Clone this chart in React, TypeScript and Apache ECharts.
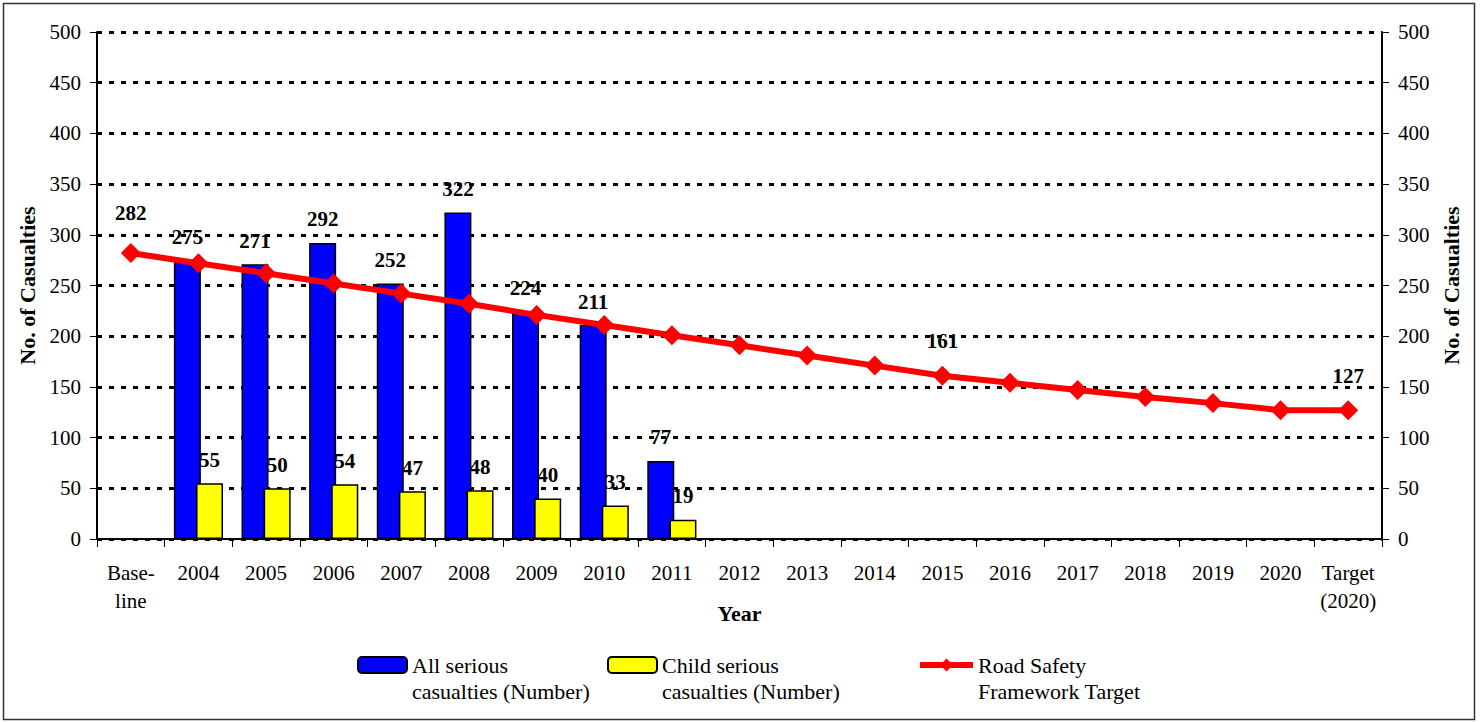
import React, { useEffect, useRef } from "react";
import * as echarts from "echarts";

const categories = ["Base-\nline", "2004", "2005", "2006", "2007", "2008", "2009", "2010", "2011", "2012", "2013", "2014", "2015", "2016", "2017", "2018", "2019", "2020", "Target\n(2020)"];
const allSerious = [null, 275, 271, 292, 252, 322, 224, 211, 77, null, null, null, null, null, null, null, null, null, null];
const childSerious = [null, 55, 50, 54, 47, 48, 40, 33, 19, null, null, null, null, null, null, null, null, null, null];
const target = [282, 272, 262, 252, 242, 232, 221, 211, 201, 191, 181, 171, 161, 154, 147, 140, 134, 127, 127];
const labelledTargetIdx = [0, 12, 18];
const yTicks = { min: 0, max: 500, interval: 50 };

const seriesNames = ["All serious\ncasualties (Number)", "Child serious\ncasualties (Number)", "Road Safety\nFramework Target"];

const FONT = "'Liberation Serif', 'Times New Roman', serif";

export default function App() {
  const ref = useRef<HTMLDivElement>(null);
  useEffect(() => {
    const chart = echarts.init(ref.current!, null, { renderer: "svg" });
    const labelStyle = { fontFamily: FONT, fontSize: 21, fontWeight: "bold", color: "#000" };
    const legendBase = (name: string, left: number) => ({
      data: [name],
      left,
      top: 626,
      padding: 0,
      itemWidth: name === seriesNames[2] ? 53 : 49,
      itemHeight: 16,
      formatter: (n: string) => "\n" + n,
      textStyle: { fontFamily: FONT, fontSize: 22, color: "#000", lineHeight: 26 },
      lineStyle: { width: 6, color: "#ff0000" },
      selectedMode: false,
    });
    const yAxisBase = (pos: "left" | "right") => ({
      type: "value",
      position: pos,
      min: yTicks.min,
      max: yTicks.max,
      interval: yTicks.interval,
      name: "No. of Casualties",
      nameLocation: "middle",
      nameGap: pos === "left" ? 52 : 46,
      nameTextStyle: { fontFamily: FONT, fontSize: 22, fontWeight: "bold", color: "#000" },
      axisLine: { show: true, lineStyle: { color: "#000", width: 2 } },
      axisTick: { show: true, length: 7, lineStyle: { color: "#000", width: 1 } },
      axisLabel: { fontFamily: FONT, fontSize: 21, color: "#000", margin: 16 },
      splitLine: pos === "left"
        ? { show: true, lineStyle: { color: "#000", width: 3, type: [5, 7] } }
        : { show: false },
    });
    chart.setOption({
      animation: false,
      backgroundColor: "#fff",
      textStyle: { fontFamily: FONT },
      graphic: [
        { type: "rect", shape: { x: 3.5, y: 3.5, width: 1471, height: 716 }, style: { fill: "none", stroke: "#333", lineWidth: 1.5 }, silent: true, z: -10 },
      ],
      grid: { left: 97, right: 98, top: 32, bottom: 183 },
      legend: [
        legendBase(seriesNames[0], 357),
        legendBase(seriesNames[1], 607),
        legendBase(seriesNames[2], 917),
      ],
      xAxis: {
        type: "category",
        data: categories,
        name: "Year",
        nameLocation: "middle",
        nameGap: 63,
        nameMoveOverlap: false,
        nameTextStyle: { fontFamily: FONT, fontSize: 22, fontWeight: "bold", color: "#000" },
        axisLine: { lineStyle: { color: "#000", width: 2 } },
        axisTick: { show: true, length: 8, lineStyle: { color: "#000", width: 1 } },
        axisLabel: { fontFamily: FONT, fontSize: 21, color: "#000", lineHeight: 28, margin: 20, interval: 0 },
      },
      yAxis: [yAxisBase("left"), yAxisBase("right")],
      series: [
        {
          name: seriesNames[0],
          type: "bar",
          data: allSerious,
          barWidth: 27,
          barGap: "-18%",
          itemStyle: { color: "#0000ff", borderColor: "#000", borderWidth: 1.5 },
          label: { show: true, position: "top", distance: 13, ...labelStyle },
        },
        {
          name: seriesNames[1],
          type: "bar",
          data: childSerious,
          barWidth: 27,
          barGap: "-18%",
          itemStyle: { color: "#ffff00", borderColor: "#000", borderWidth: 1.5 },
          label: { show: true, position: "top", distance: 13, ...labelStyle },
        },
        {
          name: seriesNames[2],
          type: "line",
          z: 5,
          data: target.map((v, i) => ({
            value: v,
            label: labelledTargetIdx.includes(i)
              ? { show: true, position: "top", distance: i === 0 ? 20 : 14, ...labelStyle }
              : { show: false },
          })),
          symbol: "diamond",
          symbolSize: [20, 20],
          lineStyle: { color: "#ff0000", width: 6 },
          itemStyle: { color: "#ff0000" },
        },
      ],
    });
    return () => chart.dispose();
  }, []);
  return <div ref={ref} style={{ position: "absolute", left: 0, top: 0, width: 1480, height: 722 }} />;
}
